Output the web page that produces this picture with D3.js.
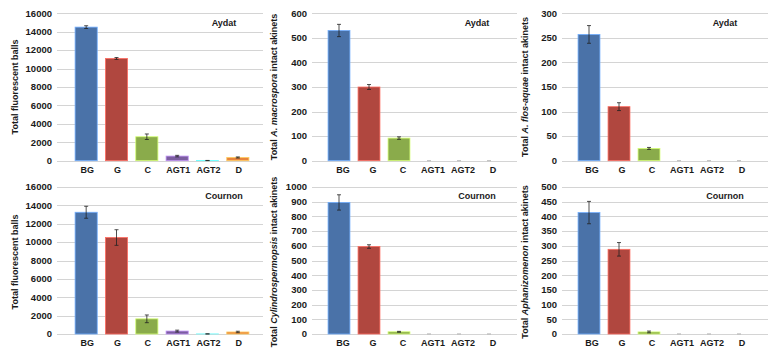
<!DOCTYPE html>
<html>
<head>
<meta charset="utf-8">
<script src="https://cdn.jsdelivr.net/npm/d3@7"></script>
<style>
body { margin: 0; background: #fff; }
text { font-family: "Liberation Sans", Arial, sans-serif; font-weight: bold; fill: #1a1a1a; }
</style>
</head>
<body>
<script>
// categories and bar colours (Excel-like palette)
const categories = ["BG", "G", "C", "AGT1", "AGT2", "D"];
const barColors = ["#4a72a8", "#b0473f", "#8aab4b", "#7c5ea0", "#4bacc6", "#e8853d"];

// Aydat
const aydatBalls = [14500, 11100, 2600, 500, 20, 350];
const aydatBallsErr = [150, 100, 300, 80, 10, 60];
const aydatMacro = [530, 300, 92, 0, 0, 0];
const aydatMacroErr = [25, 10, 5, 0, 0, 0];
const aydatFlos = [257, 110, 25, 0, 0, 0];
const aydatFlosErr = [18, 8, 2, 0, 0, 0];

// Cournon
const cournonBalls = [13250, 10500, 1650, 320, 10, 220];
const cournonBallsErr = [650, 850, 420, 100, 5, 80];
const cournonCylindro = [895, 595, 15, 0, 0, 0];
const cournonCylindroErr = [52, 12, 3, 0, 0, 0];
const cournonAphan = [413, 288, 7, 0, 0, 0];
const cournonAphanErr = [38, 23, 3, 0, 0, 0];

// axis maxima and tick steps
const yMax = [16000, 600, 300, 16000, 1000, 500];
const yStep = [2000, 100, 50, 2000, 100, 50];

const width = 771, height = 350;

const svg = d3.select("body")
  .append("svg")
  .attr("width", width)
  .attr("height", height);

// layout of the 3 columns and 2 rows
const cols = [
  { grid: [57, 263], band: [71, 253], tickX: 52, titleX: 15, siteX: 224, labelDx: 1 },
  { grid: [312, 517], band: [324, 504], tickX: 307, titleX: 274, siteX: 477, labelDx: 4 },
  { grid: [562, 768], band: [574, 754], tickX: 557, titleX: 525, siteX: 725, labelDx: 3 }
];
const rows = [
  { y: [160.7, 13.3], labelY: 173, siteY: 26, titleY: 87 },
  { y: [334, 187], labelY: 346, siteY: 199, titleY: 262 }
];

const panels = [
  { row: 0, col: 0, site: "Aydat", values: aydatBalls, errs: aydatBallsErr,
    title: [["Total fluorescent balls", false]] },
  { row: 0, col: 1, site: "Aydat", values: aydatMacro, errs: aydatMacroErr,
    title: [["Total ", false], ["A. macrospora", true], [" intact akinets", false]] },
  { row: 0, col: 2, site: "Aydat", values: aydatFlos, errs: aydatFlosErr,
    title: [["Total ", false], ["A. flos-aquae", true], [" intact akinets", false]] },
  { row: 1, col: 0, site: "Cournon", values: cournonBalls, errs: cournonBallsErr,
    title: [["Total fluorescent balls", false]] },
  { row: 1, col: 1, site: "Cournon", values: cournonCylindro, errs: cournonCylindroErr,
    title: [["Total ", false], ["Cylindrospermopsis", true], [" intact akinets", false]] },
  { row: 1, col: 2, site: "Cournon", values: cournonAphan, errs: cournonAphanErr,
    title: [["Total ", false], ["Aphanizomenon", true], [" intact akinets", false]] }
];

panels.forEach((p, i) => {
  const c = cols[p.col], r = rows[p.row];
  const g = svg.append("g");

  const x = d3.scaleBand()
    .domain(categories)
    .range(c.band)
    .paddingInner(0.27)
    .paddingOuter(0.135);

  const y = d3.scaleLinear()
    .domain([0, yMax[i]])
    .range(r.y);

  const ticks = d3.range(0, yMax[i] + 1, yStep[i]);

  // gridlines
  g.selectAll(".grid")
    .data(ticks)
    .enter()
    .append("line")
    .attr("x1", c.grid[0])
    .attr("x2", c.grid[1])
    .attr("y1", d => Math.round(y(d)) + 0.5)
    .attr("y2", d => Math.round(y(d)) + 0.5)
    .attr("stroke", "#d4d4d4")
    .attr("stroke-width", 1);

  // tick labels
  g.selectAll(".tick")
    .data(ticks)
    .enter()
    .append("text")
    .attr("x", c.tickX)
    .attr("y", d => y(d))
    .attr("dy", "0.35em")
    .attr("text-anchor", "end")
    .style("font-size", "9.5px")
    .text(d => d);

  const data = categories.map((k, j) => ({ k, v: p.values[j], e: p.errs[j], color: barColors[j] }));

  // bars
  g.selectAll(".bar")
    .data(data.filter(d => d.v > 0))
    .enter()
    .append("rect")
    .attr("x", d => x(d.k))
    .attr("width", x.bandwidth())
    .attr("y", d => y(d.v))
    .attr("height", d => y(0) - y(d.v))
    .attr("fill", d => d.color)
    .attr("stroke", d => d3.color(d.color).brighter(1.2))
    .attr("stroke-width", 0.8);

  // error bars
  const eb = g.selectAll(".err")
    .data(data)
    .enter()
    .append("g")
    .attr("stroke", d => d.v > 0 ? "#222" : "#bbb")
    .attr("stroke-width", 0.8);
  eb.append("line")
    .attr("x1", d => x(d.k) + x.bandwidth() / 2)
    .attr("x2", d => x(d.k) + x.bandwidth() / 2)
    .attr("y1", d => y(d.v + d.e))
    .attr("y2", d => y(Math.max(0, d.v - d.e)));
  eb.append("line")
    .attr("x1", d => x(d.k) + x.bandwidth() / 2 - 2)
    .attr("x2", d => x(d.k) + x.bandwidth() / 2 + 2)
    .attr("y1", d => y(d.v + d.e))
    .attr("y2", d => y(d.v + d.e));
  eb.append("line")
    .attr("x1", d => x(d.k) + x.bandwidth() / 2 - 2)
    .attr("x2", d => x(d.k) + x.bandwidth() / 2 + 2)
    .attr("y1", d => y(Math.max(0, d.v - d.e)))
    .attr("y2", d => y(Math.max(0, d.v - d.e)));

  // category labels
  g.selectAll(".cat")
    .data(categories)
    .enter()
    .append("text")
    .attr("x", d => x(d) + x.bandwidth() / 2 + c.labelDx)
    .attr("y", r.labelY)
    .attr("text-anchor", "middle")
    .style("font-size", "9px")
    .text(d => d);

  // site name
  g.append("text")
    .attr("x", c.siteX)
    .attr("y", r.siteY)
    .attr("text-anchor", "middle")
    .style("font-size", "9px")
    .text(p.site);

  // y title
  const t = g.append("text")
    .attr("transform", `translate(${c.titleX + 3},${r.titleY}) rotate(-90)`)
    .attr("text-anchor", "middle")
    .style("font-size", "9px");
  p.title.forEach(([s, it]) => {
    t.append("tspan")
      .style("font-style", it ? "italic" : "normal")
      .text(s);
  });
});
</script>
</body>
</html>
